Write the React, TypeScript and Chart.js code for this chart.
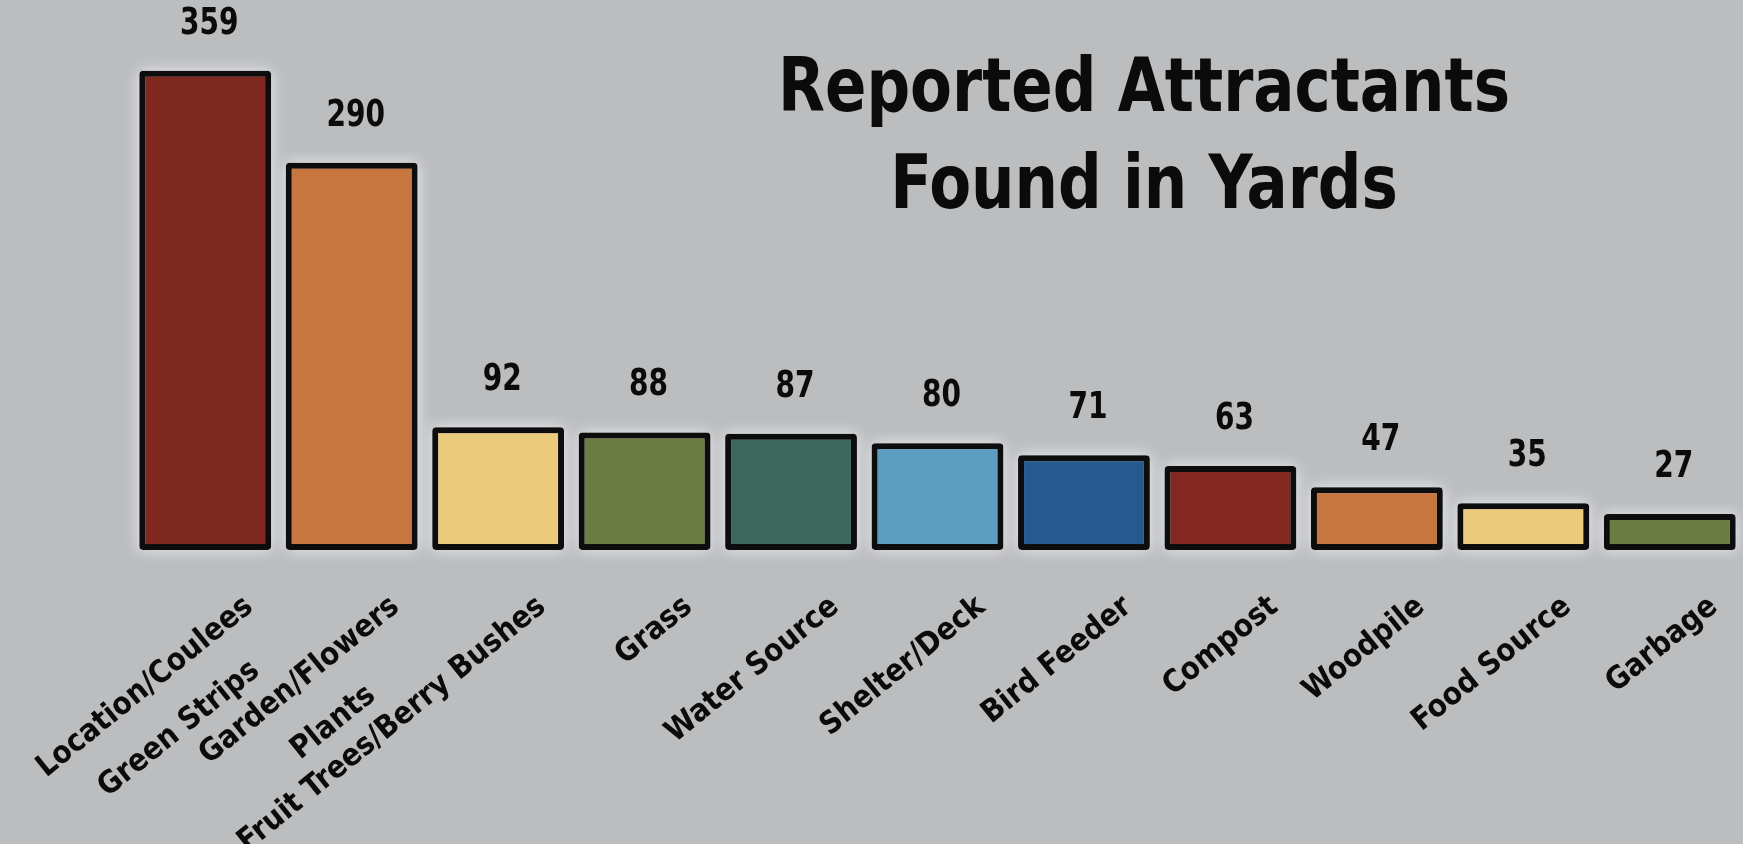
import React, { useEffect, useRef } from "react";
import { Chart, registerables } from "chart.js";

Chart.register(...registerables);

const categories: string[][] = [
  ["Location/Coulees", "Green Strips"],
  ["Garden/Flowers", "Plants"],
  ["Fruit Trees/Berry Bushes"],
  ["Grass"],
  ["Water Source"],
  ["Shelter/Deck"],
  ["Bird Feeder"],
  ["Compost"],
  ["Woodpile"],
  ["Food Source"],
  ["Garbage"],
];
const values: number[] = [359, 290, 92, 88, 87, 80, 71, 63, 47, 35, 27];
const barColors: string[] = [
  "#7e2820",
  "#c8763f",
  "#ecca7c",
  "#6b7d42",
  "#3b675d",
  "#5c9dc0",
  "#265a8e",
  "#822820",
  "#c8763f",
  "#ecca7c",
  "#6b7d42",
];
const titleLines: string[] = ["Reported Attractants", "Found in Yards"];

const BG = "#bcbdbf";
const FONT = '"DejaVu Sans Condensed", "DejaVu Sans", sans-serif';

export default function App() {
  const ref = useRef<HTMLCanvasElement | null>(null);

  useEffect(() => {
    document.body.style.margin = "0";
    document.body.style.background = BG;
    const canvas = ref.current;
    if (!canvas) return;

    const glowPlugin = {
      id: "glow",
      beforeDatasetsDraw(chart: any) {
        const ctx = chart.ctx as CanvasRenderingContext2D;
        const meta = chart.getDatasetMeta(0);
        ctx.save();
        ctx.shadowColor = "rgba(236,240,245,0.95)";
        ctx.shadowBlur = 14;
        ctx.fillStyle = BG;
        meta.data.forEach((bar: any) => {
          const w = bar.width;
          ctx.fillRect(bar.x - w / 2, bar.y, w, bar.base - bar.y);
        });
        ctx.restore();
      },
    };

    const textPlugin = {
      id: "texts",
      afterDraw(chart: any) {
        const ctx = chart.ctx as CanvasRenderingContext2D;
        const meta = chart.getDatasetMeta(0);
        const ang = (-39 * Math.PI) / 180;
        ctx.save();
        ctx.fillStyle = "#0b0b0b";
        // value labels
        ctx.font = `bold 38px ${FONT}`;
        ctx.textAlign = "center";
        ctx.textBaseline = "middle";
        meta.data.forEach((bar: any, i: number) => {
          ctx.save();
          ctx.translate(bar.x + 4, bar.y - 47);
          ctx.scale(0.82, 1);
          ctx.fillText(String(values[i]), 0, 0);
          ctx.restore();
        });
        // category labels
        ctx.font = `bold 31px ${FONT}`;
        const lh = 54;
        meta.data.forEach((bar: any, i: number) => {
          const lines = categories[i];
          const widths = lines.map((l) => ctx.measureText(l).width);
          const maxW = Math.max(...widths);
          ctx.save();
          ctx.translate(bar.x + 44, 603);
          ctx.rotate(ang);
          ctx.textAlign = "center";
          ctx.textBaseline = "middle";
          lines.forEach((l, j) => {
            ctx.fillText(l, -maxW / 2, j * lh);
          });
          ctx.restore();
        });
        // title
        ctx.textAlign = "center";
        ctx.textBaseline = "alphabetic";
        ctx.font = `bold 74px ${FONT}`;
        const w0 = ctx.measureText(titleLines[0]).width;
        const sx = 732 / w0;
        const baselines = [111, 208];
        titleLines.forEach((t, j) => {
          ctx.save();
          ctx.translate(1144, baselines[j]);
          ctx.scale(sx, 1);
          ctx.fillText(t, 0, 0);
          ctx.restore();
        });
        ctx.restore();
      },
    };

    const chart = new Chart(canvas, {
      type: "bar",
      data: {
        labels: categories.map((c) => c.join(" ")),
        datasets: [
          {
            data: values,
            backgroundColor: barColors,
            borderColor: "#0d0d0d",
            borderWidth: 6,
            borderRadius: 4,
            borderSkipped: false,
            barPercentage: 0.9,
            categoryPercentage: 1,
          },
        ],
      },
      options: {
        responsive: false,
        animation: false,
        layout: { padding: { left: 132, right: 0, top: 0, bottom: 294 } },
        plugins: {
          legend: { display: false },
          tooltip: { enabled: false },
          title: { display: false },
        },
        scales: {
          x: { display: false, grid: { display: false } },
          y: { display: false, min: 0, max: 412, grid: { display: false } },
        },
      },
      plugins: [glowPlugin, textPlugin],
    });

    return () => chart.destroy();
  }, []);

  return (
    <div style={{ position: "fixed", left: 0, top: 0, width: 1743, height: 844, background: BG }}>
      <canvas ref={ref} width={1743} height={844} style={{ display: "block", width: 1743, height: 844 }} />
    </div>
  );
}
